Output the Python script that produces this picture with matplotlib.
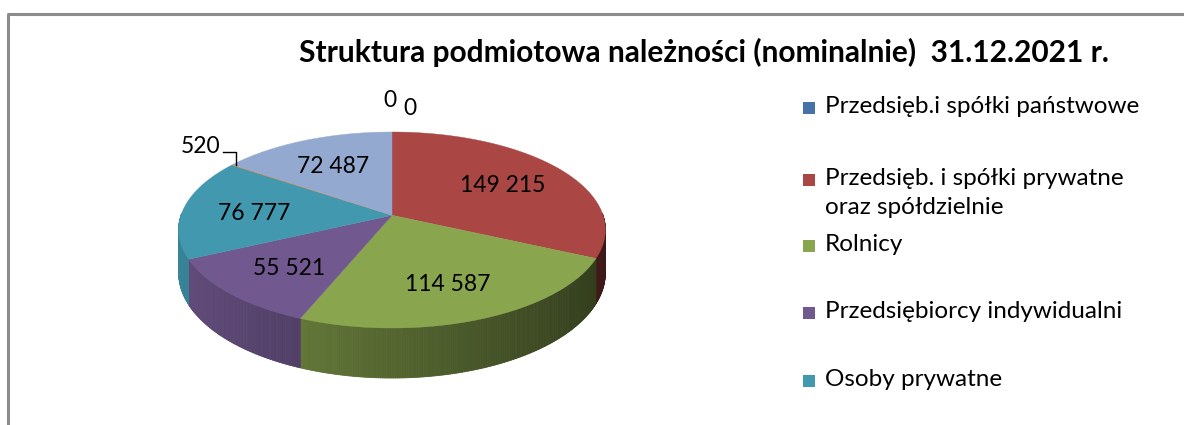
import numpy as np
import matplotlib.pyplot as plt
from matplotlib.patches import Polygon, Rectangle
from matplotlib.collections import PolyCollection
from matplotlib.lines import Line2D
from matplotlib.colors import to_rgb

# dane z wykresu
kategorie = ["Przedsięb.i spółki państwowe",
             "Przedsięb. i spółki prywatne\noraz spółdzielnie",
             "Rolnicy",
             "Przedsiębiorcy indywidualni",
             "Osoby prywatne",
             "Inne 1",
             "Inne 2",
             "Inne 3"]
wartosci = [0, 149215, 114587, 55521, 76777, 520, 72487, 0]
etykiety = ["0", "149 215", "114 587", "55 521", "76 777", "520", "72 487", "0"]
kolory = ["#4572A7", "#AA4643", "#89A54E", "#71588F", "#4198AF",
          "#DB843D", "#93A9CF", "#A47D7C"]
tytul = "Struktura podmiotowa należności (nominalnie)  31.12.2021 r."
n_legenda = 5  # legenda w oryginale jest ucieta

W, H = 1184, 425
fig = plt.figure(figsize=(W / 100, H / 100), dpi=100)
ax = fig.add_axes([0, 0, 1, 1])
ax.set_xlim(0, W)
ax.set_ylim(H, 0)
ax.axis("off")

# ramka wykresu
ax.add_line(Line2D([8, 8, W], [H, 14, 14], color="#8c8c8c", lw=2.2))

# geometria "3d" kola (pseudo perspektywa)
cx, cy, rx, ry = 392, 230, 211, 98


def proj(x, y):
    s = 1 - 0.15 * y
    g = y + 0.15 * (1 - y ** 2)
    return cx + rx * x * s, cy - ry * g


def glebokosc(y):
    return 42 - 8 * np.minimum(y, 0)


suma = sum(wartosci)
katy = 90 - 360 * np.concatenate([[0], np.cumsum(wartosci)]) / suma

# sciany boczne (tylko przednia polowa)
for i, v in enumerate(wartosci):
    if v == 0:
        continue
    a0, a1 = katy[i + 1], katy[i]
    t = np.linspace(a0, a1, max(3, int(abs(a1 - a0) * 2)))
    polys, cols = [], []
    base = np.array(to_rgb(kolory[i]))
    for k in range(len(t) - 1):
        tm = np.radians((t[k] + t[k + 1]) / 2)
        if np.sin(tm) > 0.02:
            continue
        pts = []
        for tt in (t[k], t[k + 1]):
            r = np.radians(tt)
            pts.append(proj(np.cos(r), np.sin(r)))
        for tt in (t[k + 1], t[k]):
            r = np.radians(tt)
            px, py = proj(np.cos(r), np.sin(r))
            pts.append((px, py + glebokosc(np.sin(r))))
        f = 0.615 - 0.261 * np.cos(tm)
        polys.append(pts)
        cols.append(np.clip(base * f, 0, 1))
    if polys:
        ax.add_collection(PolyCollection(polys, facecolors=cols,
                                         edgecolors=cols, linewidths=0.6))

# gorna powierzchnia
for i, v in enumerate(wartosci):
    if v == 0:
        continue
    a0, a1 = katy[i + 1], katy[i]
    t = np.radians(np.linspace(a0, a1, max(3, int(abs(a1 - a0) * 2))))
    pts = [proj(0, 0)] + [proj(np.cos(tt), np.sin(tt)) for tt in t]
    ax.add_patch(Polygon(pts, closed=True, facecolor=kolory[i],
                         edgecolor=kolory[i], lw=0.3))

# etykiety danych
fnt = "Lato"
zera = 0
for i, v in enumerate(wartosci):
    tm = np.radians((katy[i] + katy[i + 1]) / 2)
    if v == 0:
        px, py = proj(0, 1)
        px += 18 if zera == 0 else -2
        py -= 24 if zera == 0 else 32
        zera += 1
        ax.text(px, py, etykiety[i], fontsize=16.5, family=fnt,
                ha="center", va="center")
    elif v / suma < 0.02:
        ex, ey = proj(np.cos(tm), np.sin(tm))
        ex += 4
        ax.plot([ex - 13, ex, ex], [ey - 13, ey - 13, ey], color="black", lw=1)
        ax.text(ex - 16, ey - 18, etykiety[i], fontsize=16.5, family=fnt,
                ha="right", va="center")
    else:
        px, py = proj(0.66 * np.cos(tm), 0.66 * np.sin(tm))
        ax.text(px, py + 3, etykiety[i], fontsize=16.5, family=fnt,
                ha="center", va="center")

# tytul
ax.text(704, 52, tytul, fontsize=21.5, family=fnt, weight="bold",
        ha="center", va="center")

# legenda
leg_y = [108, 180, 246, 313, 381]
for i in range(n_legenda):
    ax.add_patch(Rectangle((803, leg_y[i] - 6), 12, 12, facecolor=kolory[i],
                           edgecolor="none"))
    ax.text(825, leg_y[i] - 12, kategorie[i], fontsize=17.5, family=fnt,
            ha="left", va="top", linespacing=1.45)

fig.savefig("out.png", dpi=100)
